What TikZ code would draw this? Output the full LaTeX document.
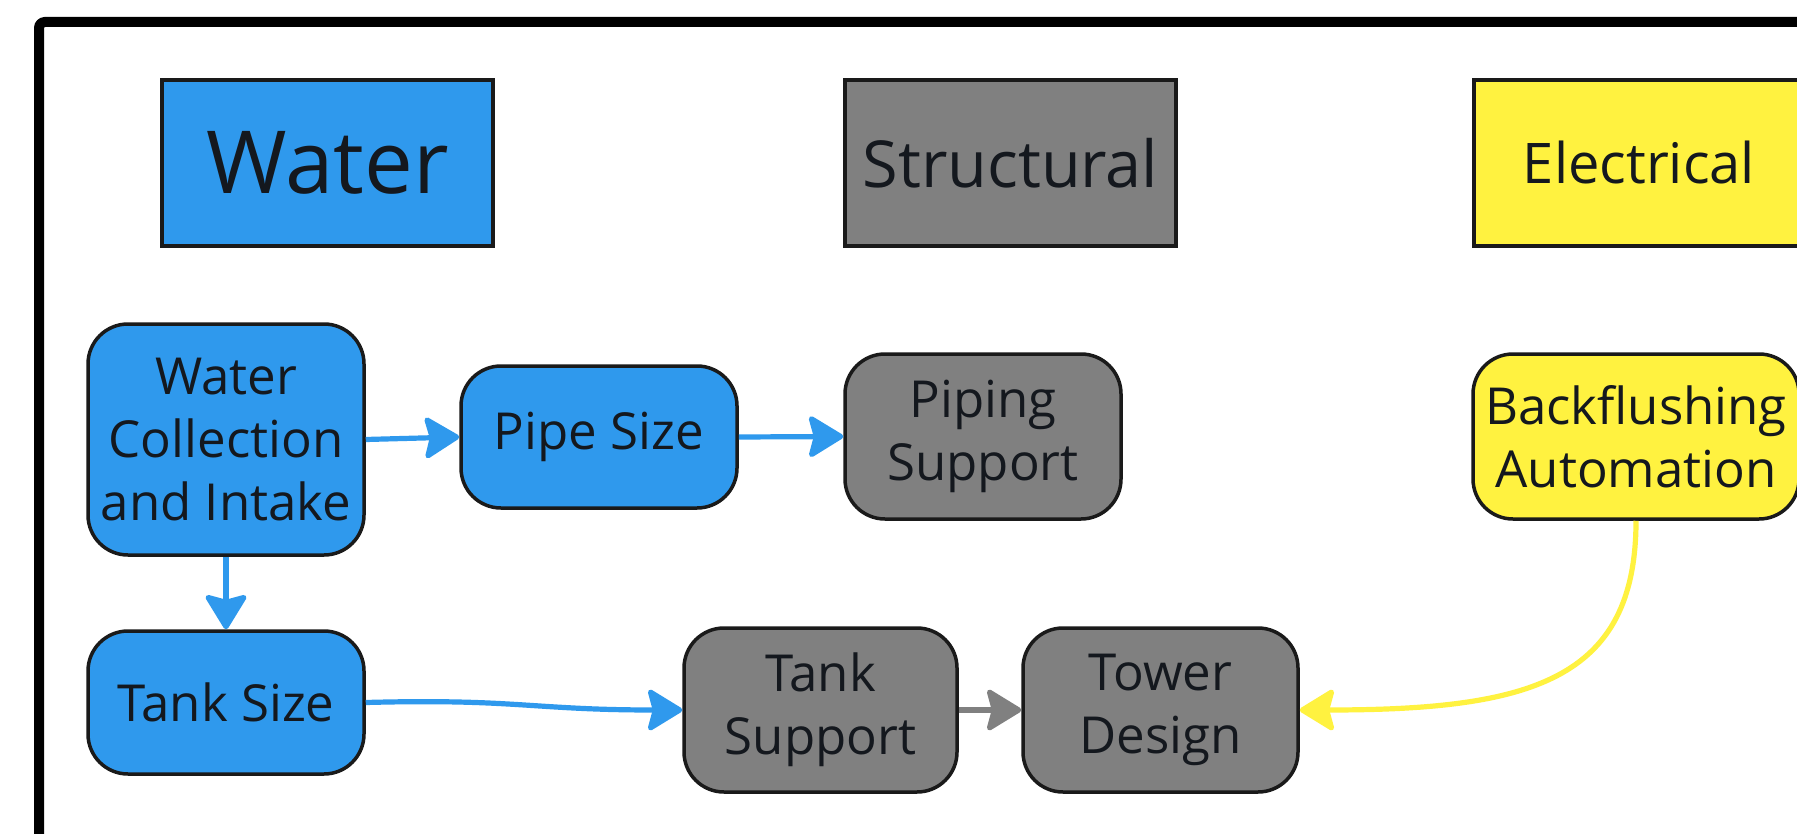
\documentclass[tikz,border=0pt]{standalone}
\usepackage{fontspec}
\setmainfont{Open Sans}
\usetikzlibrary{arrows.meta}
\definecolor{wblue}{RGB}{47,153,237}
\definecolor{sgray}{RGB}{128,128,128}
\definecolor{eyellow}{RGB}{255,242,64}
\definecolor{edgec}{RGB}{26,26,26}
\definecolor{txtc}{RGB}{20,24,30}
\begin{document}
\begin{tikzpicture}[x=0.5pt,y=-0.5pt,
 hdr/.style={draw=edgec, line width=2pt, minimum width=165.5pt, minimum height=83pt, inner sep=0pt, text=txtc},
 box/.style={draw=edgec, line width=1.75pt, rounded corners=20pt, inner sep=0pt, align=center, font=\fontsize{25.5}{31.5}\selectfont, text=txtc},
 conn/.style={line width=2.6pt, -{Stealth[length=19pt,width=23pt,inset=3pt,line join=round]}}
]
\useasboundingbox (0,0) rectangle (1797,834);
\clip (0,0) rectangle (1797,834);
\fill[white] (0,0) rectangle (1797,834);
\draw[line width=5pt, rounded corners=3pt] (39,900) -- (39,22) -- (1900,22);

% headers
\node[hdr, fill=wblue, font=\fontsize{43.5}{52}\selectfont] (hw) at (327.5,163) {Water};
\node[hdr, fill=sgray, font=\fontsize{32.4}{38}\selectfont] (hs) at (1010.5,163) {Structural};
\node[hdr, fill=eyellow, font=\fontsize{28}{33}\selectfont] (he) at (1639,163) {Electrical};

% boxes
\node[box, fill=wblue, minimum width=138pt, minimum height=115.5pt] (wc) at (226,439.5) {Water\\Collection\\and Intake};
\node[box, fill=wblue, minimum width=138pt, minimum height=71pt] (ps) at (599,437) {Pipe Size};
\node[box, fill=sgray, minimum width=138pt, minimum height=82.5pt] (pp) at (983,436.5) {Piping\\Support};
\node[box, fill=eyellow, minimum width=163pt, minimum height=82.5pt] (bf) at (1636,436.5) {Backflushing\\Automation};
\node[box, fill=wblue, minimum width=138pt, minimum height=71.5pt] (ts) at (226,702.5) {Tank Size};
\node[box, fill=sgray, minimum width=136.5pt, minimum height=82pt] (tsu) at (820.5,710) {Tank\\Support};
\node[box, fill=sgray, minimum width=137.5pt, minimum height=82pt] (td) at (1160.5,710) {Tower\\Design};

% connectors
\draw[conn, wblue] (wc.east) -- (ps.west);
\draw[conn, wblue] (ps.east) -- (pp.west);
\draw[conn, wblue] (wc.south) -- (ts.north);
\draw[conn, wblue] (ts.east) .. controls +(150,-4) and +(-150,0) .. (tsu.west);
\draw[conn, sgray] (tsu.east) -- (td.west);
\draw[conn, eyellow] (bf.south) .. controls +(0,160) and +(230,0) .. (td.east);
\end{tikzpicture}
\end{document}
